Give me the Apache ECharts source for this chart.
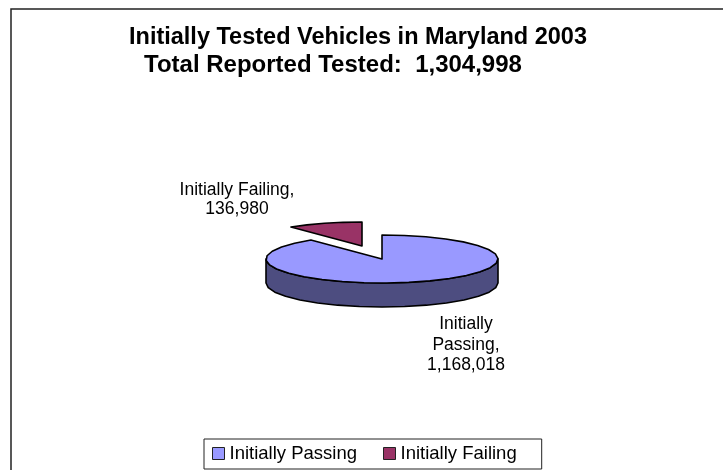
<!DOCTYPE html>
<html>
<head>
<meta charset="utf-8">
<style>
  html, body { margin: 0; padding: 0; background: #fff; }
  #chart { width: 723px; height: 470px; }
</style>
<script src="https://cdn.jsdelivr.net/npm/echarts@6/dist/echarts.min.js"></script>
</head>
<body>
<div id="chart"></div>
<script>
const categories = ['Initially Passing', 'Initially Failing'];
const values = [1168018, 136980];
const labelLines = [['Initially', 'Passing,'], ['Initially Failing,']];
const titleLines = ['Initially Tested Vehicles in Maryland 2003', 'Total Reported Tested:  1,304,998'];
const topColors = ['#9999ff', '#993366'];
const sideColors = ['#4d4d80', '#4d1a33'];

const FONT = '"Liberation Sans", Arial, sans-serif';
const cx = 382, cy = 259, rx = 116, ry = 24, depth = 24;
const total = values.reduce((a, b) => a + b, 0);

// flattened pie: t is clockwise from 12 o'clock
const pt = (t, ox, oy) => [cx + ox + rx * Math.sin(t), cy + oy - ry * Math.cos(t)];

// coarse steps on purpose, the rim in the reference is faceted
const arc = (from, to, ox, oy) => {
    const pts = [];
    const n = Math.max(2, Math.ceil((to - from) / 0.2));
    for (let i = 0; i <= n; i++) {
        pts.push(pt(from + (to - from) * i / n, ox, oy));
    }
    return pts;
};

const sliceItem = (index) => (params, api) => {
    const value = api.value(0);
    const before = values.slice(0, index).reduce((a, b) => a + b, 0);
    const start = before / total * Math.PI * 2;
    const end = start + value / total * Math.PI * 2;
    const style = { stroke: '#000', lineWidth: 1.6, lineJoin: 'round' };
    const children = [];
    const ox = index === 1 ? -20 : 0;
    const oy = index === 1 ? -13 : 0;

    // side wall is only seen on the front half
    const wallFrom = Math.max(start, Math.PI / 2);
    const wallTo = Math.min(end, Math.PI * 1.5);
    if (wallTo > wallFrom) {
        const lower = arc(wallFrom, wallTo, ox, oy);
        const upper = lower.map(p => [p[0], p[1] + depth]).reverse();
        children.push({
            type: 'polygon',
            shape: { points: lower.concat(upper) },
            style: Object.assign({ fill: sideColors[index] }, style)
        });
    }
    children.push({
        type: 'polygon',
        shape: { points: [[cx + ox, cy + oy]].concat(arc(start, end, ox, oy)) },
        style: Object.assign({ fill: topColors[index] }, style)
    });
    return { type: 'group', children: children };
};

const labelPos = [[466, 314], [237, 181]];

const makeLabel = (index) => {
    const lines = labelLines[index].concat(values[index].toLocaleString('en-US'));
    return {
        type: 'text',
        x: labelPos[index][0],
        y: labelPos[index][1],
        style: {
            text: lines.join('\n'),
            align: 'center',
            verticalAlign: 'top',
            font: '17.5px ' + FONT,
            lineHeight: index === 0 ? 20.5 : 19,
            fill: '#000'
        }
    };
};

const chart = echarts.init(document.getElementById('chart'), null, { renderer: 'canvas' });
chart.setOption({
    animation: false,
    backgroundColor: '#fff',
    title: [
        { text: titleLines[0], left: 129, top: 26, padding: 0,
          textStyle: { color: '#000', fontFamily: FONT, fontWeight: 'bold', fontSize: 23.5 } },
        { text: titleLines[1], left: 144, top: 53, padding: 0,
          textStyle: { color: '#000', fontFamily: FONT, fontWeight: 'bold', fontSize: 24 } }
    ],
    legend: {
        data: categories,
        left: 204,
        top: 439,
        padding: [5, 25, 6, 8],
        itemWidth: 12,
        itemHeight: 12,
        itemGap: 26,
        icon: 'rect',
        borderColor: '#222',
        borderWidth: 1,
        itemStyle: { borderColor: '#222', borderWidth: 1 },
        textStyle: { color: '#000', fontFamily: FONT, fontSize: 18.5 }
    },
    graphic: [
        { type: 'rect', shape: { x: 11, y: 9, width: 730, height: 480 },
          style: { fill: 'none', stroke: '#222', lineWidth: 1.5 }, z: -1 },
        makeLabel(0),
        makeLabel(1)
    ],
    series: categories.map((name, i) => ({
        type: 'custom',
        name: name,
        coordinateSystem: 'none',
        silent: true,
        itemStyle: { color: topColors[i] },
        renderItem: sliceItem(i),
        data: [[values[i]]]
    }))
});
</script>
</body>
</html>
